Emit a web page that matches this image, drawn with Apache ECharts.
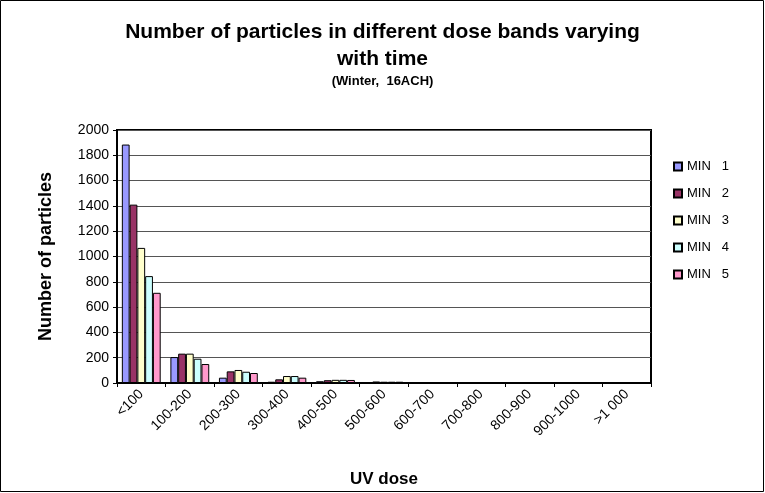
<!DOCTYPE html>
<html>
<head>
<meta charset="utf-8">
<script src="https://cdn.jsdelivr.net/npm/echarts@6/dist/echarts.min.js"></script>
<style>
html,body{margin:0;padding:0;background:#fff;}
#c{width:765px;height:493px;}
</style>
</head>
<body>
<div id="c"></div>
<script>
var categories = ['<100','100-200','200-300','300-400','400-500','500-600','600-700','700-800','800-900','900-1000','>1 000'];
var seriesNames = ['MIN   1','MIN   2','MIN   3','MIN   4','MIN   5'];
var min1 = [1885, 205, 42, 10, 14, 5, 2, 1, 0, 0, 0];
var min2 = [1410, 232, 92, 29, 22, 12, 3, 1, 1, 0, 0];
var min3 = [1068, 232, 103, 55, 25, 10, 3, 1, 1, 0, 0];
var min4 = [845, 192, 89, 55, 25, 10, 2, 1, 0, 0, 0];
var min5 = [713, 150, 79, 42, 24, 10, 2, 1, 0, 0, 0];
var yTicks = { min: 0, max: 2000, interval: 200 };
var colors = ['#9999FF', '#993366', '#FFFFCC', '#CCFFFF', '#FF99CC'];
var allValues = [min1, min2, min3, min4, min5];

var chart = echarts.init(document.getElementById('c'), null, { renderer: 'canvas' });
var font = 'Liberation Sans, Arial, sans-serif';
var series = allValues.map(function (vals, i) {
  return {
    name: seriesNames[i],
    type: 'bar',
    data: vals,
    barGap: '0%',
    barCategoryGap: '20%',
    itemStyle: { color: colors[i], borderColor: '#000', borderWidth: 1 },
    emphasis: { disabled: true },
    animation: false
  };
});

chart.setOption({
  animation: false,
  backgroundColor: '#fff',
  graphic: [{
    type: 'rect',
    shape: { x: 0.5, y: 0.5, width: 763, height: 491 },
    style: { fill: 'none', stroke: '#000', lineWidth: 1 },
    silent: true,
    z: -1
  }],
  title: [{
    text: 'Number of particles in different dose bands varying\nwith time',
    left: 'center',
    top: 14,
    textStyle: { fontFamily: font, fontSize: 21, fontWeight: 'bold', color: '#000', lineHeight: 27 }
  }, {
    text: '(Winter,  16ACH)',
    left: 'center',
    top: 70,
    textStyle: { fontFamily: font, fontSize: 13, fontWeight: 'bold', color: '#000' }
  }],
  legend: {
    orient: 'vertical',
    left: 668,
    top: 155,
    itemWidth: 8,
    itemHeight: 8,
    itemGap: 14,
    icon: 'rect',
    selectedMode: false,
    textStyle: { fontFamily: font, fontSize: 13, color: '#000' },
    data: seriesNames
  },
  grid: { left: 117, right: 114, top: 130, bottom: 110, show: true, borderColor: '#000', borderWidth: 2, containLabel: false },
  xAxis: {
    type: 'category',
    data: categories,
    name: 'UV dose',
    nameLocation: 'middle',
    nameGap: 88,
    nameTextStyle: { fontFamily: font, fontSize: 17, fontWeight: 'bold', color: '#000' },
    axisLine: { lineStyle: { color: '#000', width: 2 } },
    axisTick: { show: true, length: 4, lineStyle: { color: '#000' } },
    axisLabel: { rotate: 45, fontFamily: font, fontSize: 14, color: '#000', margin: 9, interval: 0 },
    splitLine: { show: false }
  },
  yAxis: {
    type: 'value',
    min: yTicks.min,
    max: yTicks.max,
    interval: yTicks.interval,
    name: 'Number of particles',
    nameLocation: 'middle',
    nameGap: 62,
    nameTextStyle: { fontFamily: font, fontSize: 18, fontWeight: 'bold', color: '#000' },
    axisLine: { show: true, lineStyle: { color: '#000', width: 2 } },
    axisTick: { show: true, length: 4, lineStyle: { color: '#000' } },
    axisLabel: { fontFamily: font, fontSize: 14, color: '#000', margin: 8, formatter: function (v) { return String(v); } },
    splitLine: { show: true, lineStyle: { color: '#555', width: 1 } }
  },
  series: series
});
</script>
</body>
</html>
